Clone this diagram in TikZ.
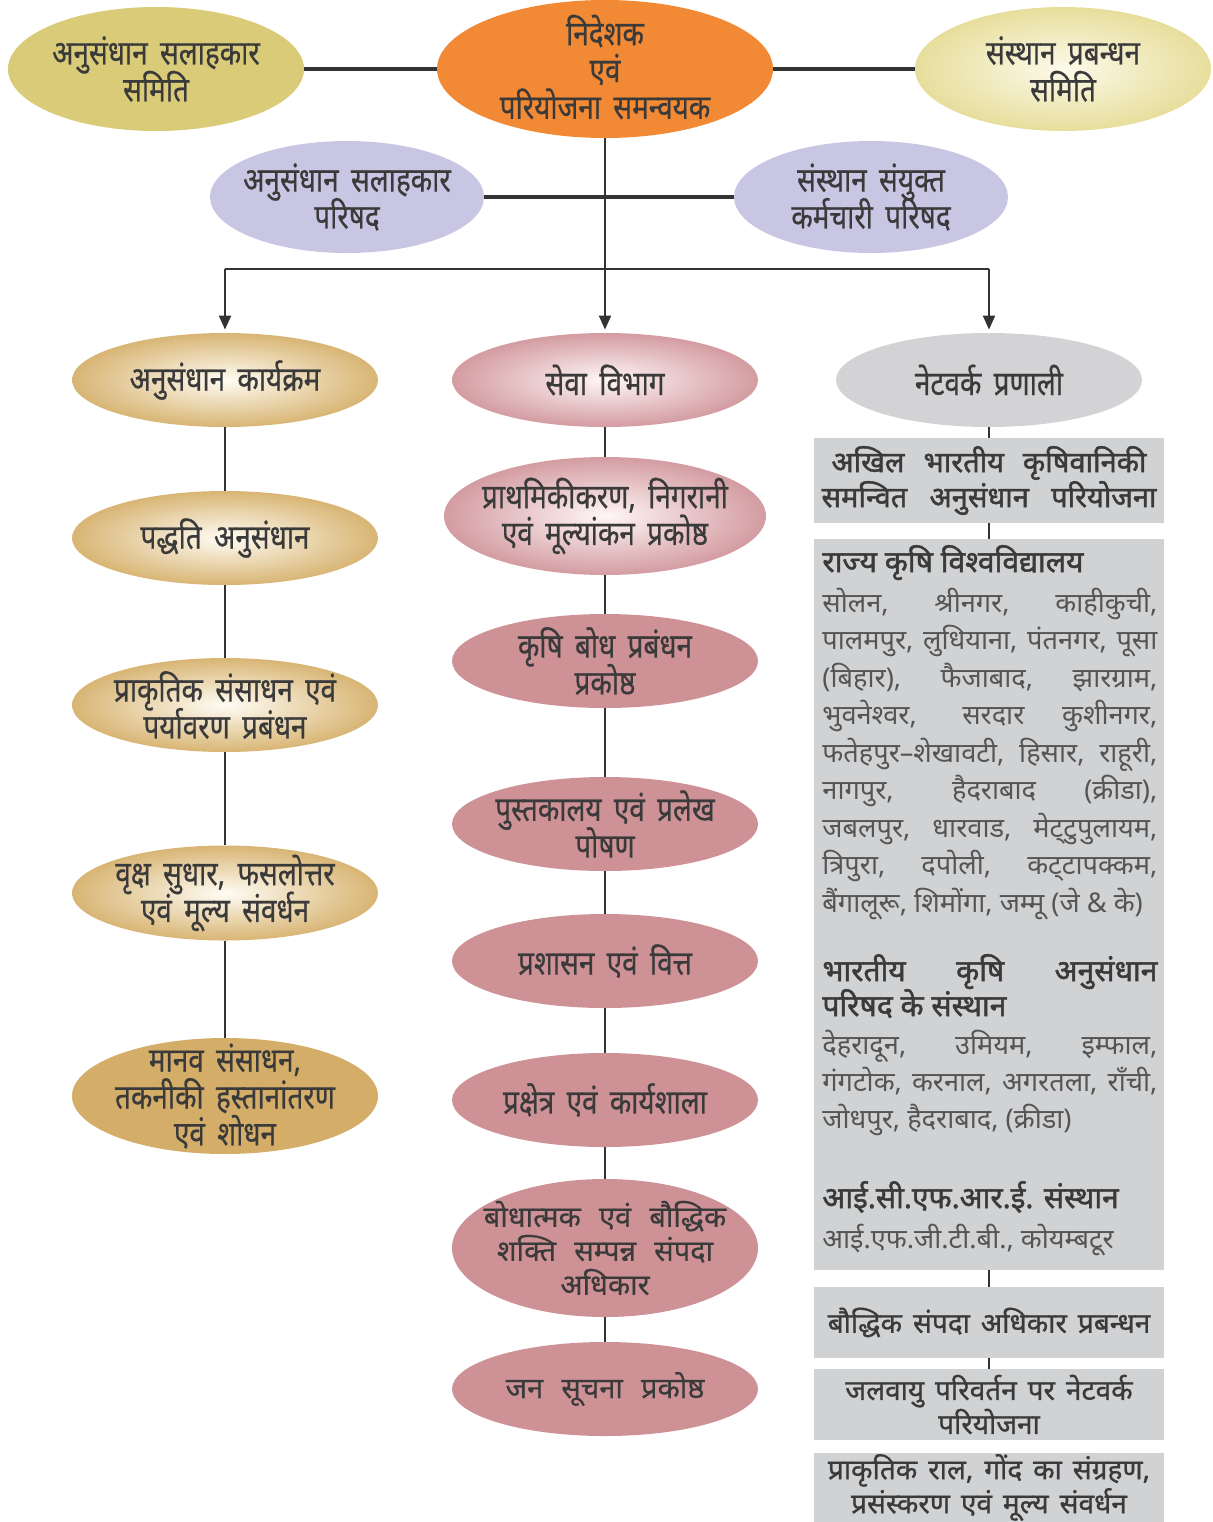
\documentclass[tikz,border=0pt]{standalone}
\usepackage{fontspec}
\usetikzlibrary{shapes.geometric,arrows.meta}
\newfontfamily\dev[Script=Devanagari]{Noto Sans}
\newfontfamily\devb[Script=Devanagari,FakeBold=1.6]{Noto Sans}
\newfontfamily\devc[Script=Devanagari,FakeStretch=0.82,FakeBold=0.5,WordSpace=1.7]{Noto Sans}
\newfontfamily\devp[Script=Devanagari,FakeBold=0.4,WordSpace=2.4]{Noto Sans}
\newfontfamily\devm[Script=Devanagari,FakeBold=0.9,WordSpace=1.5]{Noto Sans}
\newcommand\tightls{\lineskiplimit -20pt\relax}
\definecolor{lc}{HTML}{333333}
\definecolor{tc}{HTML}{3A3A3A}
\definecolor{bodyc}{HTML}{555555}
\definecolor{olivec}{HTML}{D9CB78}
\definecolor{orangec}{HTML}{F28A35}
\definecolor{lavc}{HTML}{C9C6E4}
\definecolor{tanc}{HTML}{D4AD69}
\definecolor{tanedge}{HTML}{D8B574}
\definecolor{tanin}{HTML}{FFFCF4}
\definecolor{pinkc}{HTML}{CD9196}
\definecolor{pinkedge}{HTML}{D39CA1}
\definecolor{pinkin}{HTML}{FFF6F6}
\definecolor{yedge}{HTML}{E7DE9C}
\definecolor{yin}{HTML}{FCFAEA}
\definecolor{greyc}{HTML}{D3D3D5}
\definecolor{boxc}{HTML}{D1D2D4}
\tikzset{
  tline/.style={line width=1.6pt, draw=lc},
  cline/.style={line width=1pt, draw=lc},
  ell/.style={ellipse, inner sep=0pt, draw=none},
  big/.style={minimum width=148pt, minimum height=62pt},
  mid/.style={minimum width=137pt, minimum height=56pt},
  col/.style={minimum width=153pt, minimum height=47pt},
  tanshade/.style={inner color=tanin, outer color=tanedge},
  pinkshade/.style={inner color=pinkin, outer color=pinkedge},
  etxt/.style={align=center, text=tc, inner sep=0pt, font={\devc\fontsize{17}{18.4}\selectfont\tightls}},
  ptxt/.style={align=center, text=tc, inner sep=0pt, font={\devp\fontsize{14.5}{17}\selectfont\tightls}},
  gbox/.style={rectangle, fill=boxc, inner sep=0pt, minimum width=175pt},
  btxt/.style={align=center, text=tc, inner sep=0pt, font={\devm\fontsize{14}{17}\selectfont\tightls}},
  b1txt/.style={align=center, text=tc, inner sep=0pt, font={\devb\fontsize{14.5}{17.5}\selectfont\tightls}},
  rline/.style={anchor=west, inner sep=0pt, text=bodyc, text height=10pt, text depth=3pt, font=\dev\fontsize{13.6}{16}\selectfont},
  rhead/.style={anchor=west, inner sep=0pt, text=tc, text height=10pt, text depth=3pt, font=\devb\fontsize{15}{16}\selectfont},
  arr/.style={cline, -{Triangle[length=7pt,width=6pt]}, shorten >=1.5pt}
}
\newcommand\jw[1]{\makebox[167.5pt][s]{#1}}
\begin{document}
\begin{tikzpicture}[x=0.5pt,y=-0.5pt]
\useasboundingbox (0,0) rectangle (1212,1522);
% top row
\node[ell, big, fill=olivec] (asc) at (156,69) {};
\node[etxt] (ascT) at (asc) {अनुसंधान सलाहकार\\समिति};
\node[ell, minimum width=168pt, minimum height=69pt, fill=orangec] (dir) at (605,69) {};
\node[etxt] (dirT) at (605,67) {निदेशक\\एवं\\परियोजना समन्वयक};
\node[ell, big, inner color=yin, outer color=yedge] (ipc) at (1063,69) {};
\node[etxt] (ipcT) at (ipc) {संस्थान प्रबन्धन\\समिति};
\draw[tline] (asc) -- (dir);
\draw[tline] (dir) -- (ipc);
% second row
\node[ell, mid, fill=lavc] (ras) at (347,197) {};
\node[etxt] (rasT) at (ras) {अनुसंधान सलाहकार\\परिषद};
\node[ell, mid, fill=lavc] (sjc) at (871,197) {};
\node[etxt] (sjcT) at (sjc) {संस्थान संयुक्त\\कर्मचारी परिषद};
\draw[tline] (ras) -- (sjc);
\coordinate (bm) at (605,269);
\coordinate (bl) at (225,269);
\coordinate (br) at (989,269);
\draw[cline] (dir) -- (bm);
\draw[cline] (bl) -- (br);
% column 1
\node[ell, col, tanshade] (c1a) at (225,380) {};
\node[etxt] (c1aT) at (c1a) {अनुसंधान कार्यक्रम};
\node[ell, col, tanshade] (c1b) at (225,538) {};
\node[etxt] (c1bT) at (c1b) {पद्धति अनुसंधान};
\node[ell, col, tanshade] (c1c) at (225,705) {};
\node[etxt] (c1cT) at (c1c) {प्राकृतिक संसाधन एवं\\पर्यावरण प्रबंधन};
\node[ell, col, tanshade, minimum height=47.5pt] (c1d) at (225,893) {};
\node[etxt] (c1dT) at (c1d) {वृक्ष सुधार, फसलोत्तर\\एवं मूल्य संवर्धन};
\node[ell, col, fill=tanc, minimum height=58pt] (c1e) at (225,1096) {};
\node[etxt] (c1eT) at (c1e) {मानव संसाधन,\\तकनीकी हस्तानांतरण\\एवं शोधन};
\draw[arr] (bl) -- (c1a);
\draw[cline] (c1a) -- (c1b);
\draw[cline] (c1b) -- (c1c);
\draw[cline] (c1c) -- (c1d);
\draw[cline] (c1d) -- (c1e);
% column 2
\node[ell, col, pinkshade] (c2a) at (605,380) {};
\node[etxt] (c2aT) at (c2a) {सेवा विभाग};
\node[ell, pinkshade, minimum width=161pt, minimum height=59pt] (c2b) at (605,516) {};
\node[etxt] (c2bT) at (c2b) {प्राथमिकीकरण, निगरानी\\एवं मूल्यांकन प्रकोष्ठ};
\node[ell, col, fill=pinkc] (c2c) at (605,661) {};
\node[etxt] (c2cT) at (c2c) {कृषि बोध प्रबंधन\\प्रकोष्ठ};
\node[ell, col, fill=pinkc] (c2d) at (605,824) {};
\node[etxt] (c2dT) at (c2d) {पुस्तकालय एवं प्रलेख\\पोषण};
\node[ell, col, fill=pinkc] (c2e) at (605,961) {};
\node[etxt] (c2eT) at (c2e) {प्रशासन एवं वित्त};
\node[ell, col, fill=pinkc] (c2f) at (605,1100) {};
\node[etxt] (c2fT) at (c2f) {प्रक्षेत्र एवं कार्यशाला};
\node[ell, col, fill=pinkc, minimum height=69pt] (c2g) at (605,1248) {};
\node[ptxt] (c2gT) at (c2g) {बोधात्मक एवं बौद्धिक\\शक्ति सम्पन्न संपदा\\अधिकार};
\node[ell, col, fill=pinkc] (c2h) at (605,1389) {};
\node[ptxt] (c2hT) at (c2h) {जन सूचना प्रकोष्ठ};
\draw[arr] (bm) -- (c2a);
\draw[cline] (c2a) -- (c2b);
\draw[cline] (c2b) -- (c2c);
\draw[cline] (c2c) -- (c2d);
\draw[cline] (c2d) -- (c2e);
\draw[cline] (c2e) -- (c2f);
\draw[cline] (c2f) -- (c2g);
\draw[cline] (c2g) -- (c2h);
% column 3
\node[ell, col, fill=greyc] (c3a) at (989,380) {};
\node[etxt] (c3aT) at (c3a) {नेटवर्क प्रणाली};
\node[gbox, minimum height=42.5pt] (b1) at (989,480.5) {};
\node[b1txt] (b1T) at (b1) {\makebox[157.5pt][s]{अखिल भारतीय कृषिवानिकी}\\\jw{समन्वित अनुसंधान परियोजना}};
\node[gbox, minimum height=365.5pt] (b2) at (989,904.5) {};
\node[gbox, minimum height=35.5pt] (b3) at (989,1322.5) {};
\node[btxt] (b3T) at (b3) {बौद्धिक संपदा अधिकार प्रबन्धन};
\node[gbox, minimum height=35.5pt] (b4) at (989,1404.5) {};
\node[btxt] (b4T) at (b4) {जलवायु परिवर्तन पर नेटवर्क\\परियोजना};
\node[gbox, minimum height=34.5pt] (b5) at (989,1487.5) {};
\node[btxt] (b5T) at (b5) {प्राकृतिक राल, गोंद का संग्रहण,\\प्रसंस्करण एवं मूल्य संवर्धन};
\draw[arr] (br) -- (c3a);
\draw[cline] (c3a) -- (b1);
\draw[cline] (b1) -- (b2);
\draw[cline] (b2) -- (b3);
\draw[cline] (b3) -- (b4);
% box 2 content
\node[rhead] (h1) at (822,565) {राज्य कृषि विश्वविद्यालय};
\node[rline] (l1) at (822,605) {\jw{सोलन, श्रीनगर, काहीकुची,}};
\node[rline] (l2) at (822,642) {\jw{पालमपुर, लुधियाना, पंतनगर, पूसा}};
\node[rline] (l3) at (822,680) {\jw{(बिहार), फैजाबाद, झारग्राम,}};
\node[rline] (l4) at (822,717) {\jw{भुवनेश्वर, सरदार कुशीनगर,}};
\node[rline] (l5) at (822,755) {\jw{फतेहपुर–शेखावटी, हिसार, राहूरी,}};
\node[rline] (l6) at (822,792) {\jw{नागपुर, हैदराबाद (क्रीडा),}};
\node[rline] (l7) at (822,830) {\jw{जबलपुर, धारवाड, मेट्‌टुपुलायम,}};
\node[rline] (l8) at (822,867) {\jw{त्रिपुरा, दपोली, कट्‌टापक्कम,}};
\node[rline] (l9) at (822,905) {बैंगालूरू, शिमोंगा, जम्मू (जे \& के)};
\node[rhead] (h2) at (822,974) {\jw{भारतीय कृषि अनुसंधान}};
\node[rhead] (h2b) at (822,1009) {परिषद के संस्थान};
\node[rline] (m1) at (822,1047) {\jw{देहरादून, उमियम, इम्फाल,}};
\node[rline] (m2) at (822,1084) {\jw{गंगटोक, करनाल, अगरतला, राँची,}};
\node[rline] (m3) at (822,1121) {जोधपुर, हैदराबाद, (क्रीडा)};
\node[rhead] (h3) at (822,1201) {आई.सी.एफ.आर.ई. संस्थान};
\node[rline] (n1) at (822,1241) {आई.एफ.जी.टी.बी., कोयम्बटूर};
\end{tikzpicture}
\end{document}
